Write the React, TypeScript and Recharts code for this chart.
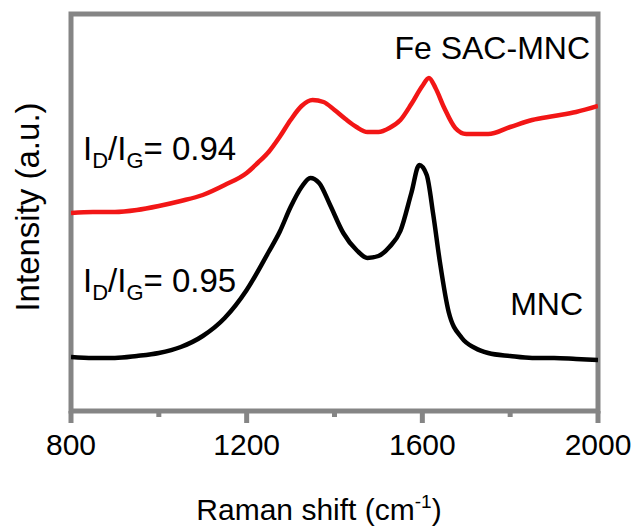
import React from "react"
import { LineChart, Line, XAxis, YAxis, ReferenceArea } from "recharts"

// Raman shift (cm-1) and intensity (a.u.)
const mncShift = [800, 850, 900, 950, 1000, 1050, 1100, 1150, 1200, 1250, 1275, 1300, 1325, 1345, 1365, 1390, 1420, 1450, 1475, 1500, 1525, 1550, 1575, 1593, 1610, 1625, 1640, 1660, 1690, 1720, 1750, 1800, 1850, 1900, 1950, 2000]
const mncIntensity = [54, 53, 53, 55, 58, 64, 75, 93, 121, 159, 179, 204, 224, 233, 228, 206, 178, 161, 153, 155, 164, 180, 218, 246, 236, 196, 149, 99, 73, 63, 58, 55, 53, 53, 52, 51]

const feShift = [800, 850, 900, 950, 1000, 1050, 1100, 1150, 1200, 1225, 1250, 1275, 1300, 1325, 1350, 1375, 1400, 1425, 1450, 1475, 1500, 1525, 1550, 1575, 1600, 1615, 1630, 1650, 1675, 1700, 1750, 1800, 1850, 1900, 1950, 2000]
const feIntensity = [198, 199, 199, 201, 205, 210, 216, 226, 238, 248, 259, 274, 291, 305, 311, 309, 301, 292, 284, 279, 279, 283, 291, 307, 325, 333, 323, 303, 283, 277, 277, 284, 291, 295, 299, 305]

const xTicks = [800, 1000, 1200, 1400, 1600, 1800, 2000]
const labeledTicks = [800, 1200, 1600, 2000]

const mncData = mncShift.map((x, i) => ({ x, y: mncIntensity[i] }))
const feData = feShift.map((x, i) => ({ x, y: feIntensity[i] }))

const FONT = "'Liberation Sans', Arial, sans-serif"
const GRAY = "#858585"

function XTick(props: any) {
  const { x, y, payload } = props
  const major = labeledTicks.includes(payload.value)
  return (
    <g>
      <line x1={x} x2={x} y1={y} y2={y + (major ? 12 : 6)} stroke={GRAY} strokeWidth={5} />
      {major && (
        <text x={x} y={y + 44} textAnchor="middle" fontSize={30} fontFamily={FONT} fill="#000">
          {payload.value}
        </text>
      )}
    </g>
  )
}

function Ratio({ x, y, value }: { x: number; y: number; value: string }) {
  return (
    <text x={x} y={y} fontSize={33} fontFamily={FONT} fill="#000">
      I<tspan fontSize={22} dy={8}>D</tspan>
      <tspan dy={-8}>/I</tspan>
      <tspan fontSize={22} dy={8}>G</tspan>
      <tspan dy={-8}>= {value}</tspan>
    </text>
  )
}

export default function App() {
  return (
    <div style={{ position: "absolute", left: 0, top: 0, width: 638, height: 531, background: "#fff" }}>
      <LineChart width={638} height={531} margin={{ top: 14, right: 40, bottom: 60, left: 71 }}>
        <XAxis
          type="number"
          dataKey="x"
          domain={[800, 2000]}
          ticks={xTicks}
          interval={0}
          allowDataOverflow
          height={60}
          axisLine={false}
          tickLine={false}
          tickSize={0}
          tickMargin={0}
          tick={<XTick />}
        />
        <YAxis hide type="number" domain={[0, 397]} />
        <Line data={mncData} dataKey="y" stroke="#000" strokeWidth={4.5} dot={false} type="monotone" isAnimationActive={false} />
        <Line data={feData} dataKey="y" stroke="#f21616" strokeWidth={4.5} dot={false} type="monotone" isAnimationActive={false} />
        <ReferenceArea x1={800} x2={2000} y1={0} y2={397} fill="none" stroke={GRAY} strokeWidth={5} ifOverflow="visible" />
      </LineChart>
      <svg width={638} height={531} style={{ position: "absolute", left: 0, top: 0, pointerEvents: "none" }}>
        <text x={590} y={59} textAnchor="end" fontSize={32} fontFamily={FONT} fill="#000">Fe SAC-MNC</text>
        <text x={583} y={315} textAnchor="end" fontSize={32} fontFamily={FONT} fill="#000">MNC</text>
        <Ratio x={83} y={160} value="0.94" />
        <Ratio x={83} y={292} value="0.95" />
        <text x={39} y={207} transform="rotate(-90 39 207)" textAnchor="middle" fontSize={33} fontFamily={FONT} fill="#000">Intensity (a.u.)</text>
        <text x={319} y={520} textAnchor="middle" fontSize={30} fontFamily={FONT} fill="#000">
          Raman shift (cm<tspan fontSize={19} dy={-12}>-1</tspan><tspan dy={12}>)</tspan>
        </text>
      </svg>
    </div>
  )
}
